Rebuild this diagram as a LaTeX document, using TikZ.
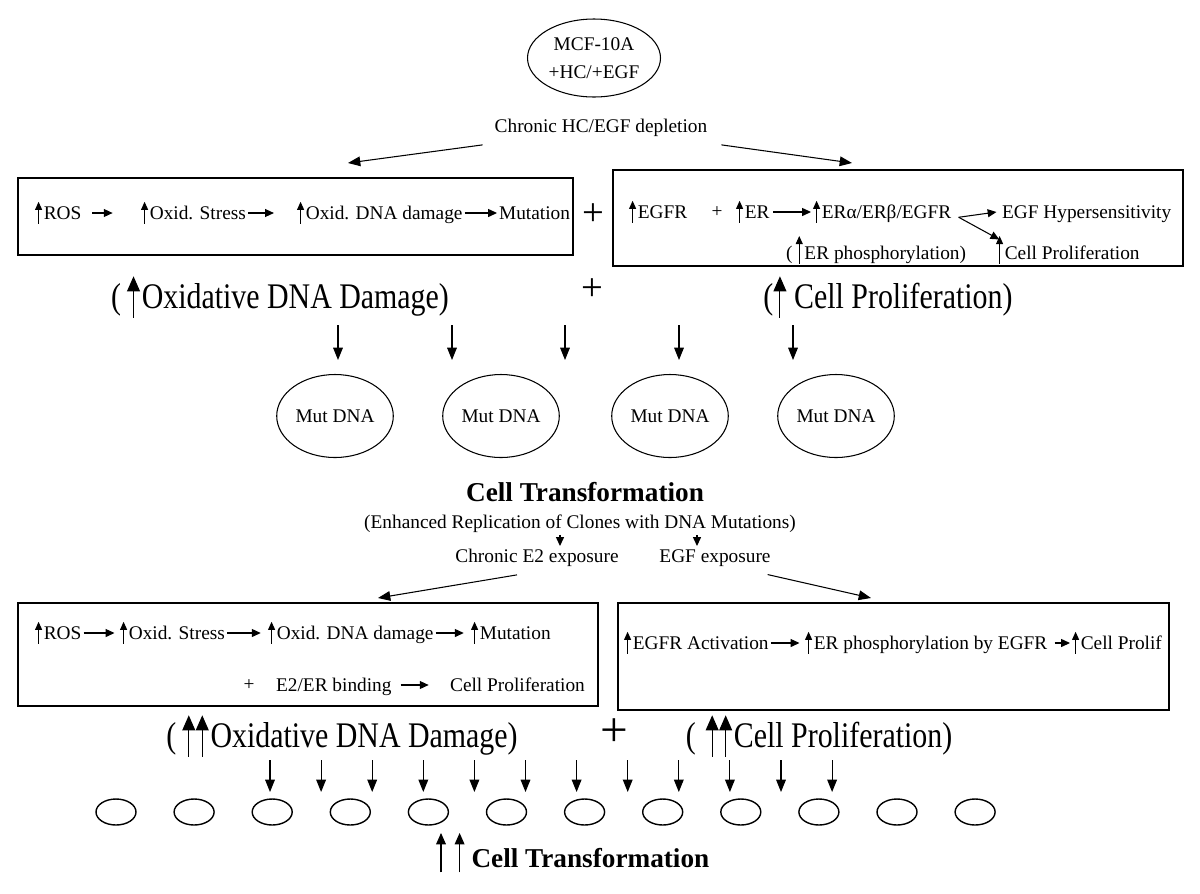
\documentclass[tikz,border=0pt]{standalone}
\usepackage{fontspec}
\setmainfont{Liberation Serif}
\newfontfamily\bigserif[FakeStretch=0.83]{Liberation Serif}
\usetikzlibrary{shapes.geometric,arrows.meta}

% small up arrow set inside text
\newcommand\upx[2]{\tikz[baseline=0pt]\draw[line width=0.6pt,-{Triangle[length=0.42em,width=0.36em]}] (0pt,#1)--(0pt,#2);}
\newcommand\uparr{\upx{-0.25em}{0.9em}\kern1pt}
\newcommand\upuparr{\upx{-0.25em}{0.9em}\kern0.3pt\upx{-0.25em}{0.9em}\kern1pt}

\begin{document}
\begin{tikzpicture}[x=0.02cm,y=-0.02cm,
  every node/.style={font=\fontsize{11}{13}\selectfont,inner sep=1pt},
  arr/.style={line width=0.6pt,-{Triangle[length=5pt,width=4.5pt]}},
  darr/.style={line width=0.6pt,-{Triangle[length=7pt,width=5.5pt]}},
  panel/.style={draw,line width=0.7pt},
  entry/.style={anchor=west,text height=1em,text depth=0.3em},
  big/.style={font=\bigserif\fontsize{20.5}{24}\selectfont},
  headline/.style={font=\bfseries\fontsize{15.5}{18}\selectfont},
  plus/.style={font=\fontsize{22}{22}\selectfont},
  mdna/.style={draw,ellipse,line width=0.6pt,minimum width=2.24cm,minimum height=1.66cm},
  cell/.style={draw,ellipse,line width=0.8pt,minimum width=0.8cm,minimum height=0.52cm}]
\useasboundingbox (0,0) rectangle (1200,893);

% start
\node[draw,ellipse,line width=0.6pt,minimum width=2.56cm,minimum height=1.56cm,align=center,
  font=\fontsize{11}{16}\selectfont] (mcf) at (594,58) {MCF-10A\\+HC/+EGF};
\node (dep) at (601,128) {Chronic HC/EGF depletion};
\coordinate (dl) at (348,163);
\coordinate (dr) at (852,163);
\draw[darr] ([shift={(-10,6)}]dep.south west) -- (dl);
\draw[darr] ([shift={(12,6)}]dep.south east) -- (dr);

% first panels
\draw[panel] (18,178) rectangle (573,255);
\draw[panel] (613,170) rectangle (1183,266);
\node[plus] (p1) at (593,215) {+};

\node[entry] (ros1) at (33,213) {\uparr ROS};
\node[entry] (str1) at (139,213) {\uparr Oxid. Stress};
\node[entry] (dam1) at (295,213) {\uparr Oxid. DNA damage};
\node[entry] (mtn1) at (497,213) {Mutation};
\draw[arr,shorten <=5pt,shorten >=15pt] (ros1) -- (str1);
\draw[arr,shorten >=12pt] (str1) -- (dam1);
\draw[arr] (dam1) -- (mtn1);

\node[entry] (egfr) at (627,212) {\uparr EGFR};
\node (pl) at (717,212) {+};
\node[entry] (er) at (734,212) {\uparr ER};
\node[entry] (erab) at (811,212) {\uparr ERα/ERβ/EGFR};
\node[entry] (hyp) at (1000,212) {EGF Hypersensitivity};
\node[entry] (erp) at (784,253) {(\,\upx{-0.25em}{1.2em}\kern1pt ER phosphorylation)};
\node[entry] (cpro) at (994,253) {\upx{-0.25em}{1.2em}\kern1pt Cell Proliferation};
\draw[arr,shorten <=1pt] (er) -- (erab);
\draw[arr] ([shift={(3pt,-3pt)}]erab.east) -- ([xshift=-2pt]hyp.west);
\draw[arr] ([shift={(3pt,-3pt)}]erab.east) -- ([shift={(3pt,0pt)}]cpro.north west);

\node[big] (oxd1) at (280,297) {(\,\uparr Oxidative DNA Damage)};
\node[plus] (p2) at (592,290) {+};
\node[big] (pro1) at (888,297) {(\uparr\,Cell Proliferation)};

\foreach \x [count=\i] in {338,452,565,679,793} {
  \coordinate (s\i) at (\x,325);
  \coordinate (e\i) at (\x,360);
  \draw[darr] (s\i) -- (e\i);
}
\foreach \x [count=\i] in {335,501,670,836}
  \node[mdna] (dna\i) at (\x,416) {Mut DNA};

% transformation
\node[headline] (ct1) at (585,492) {Cell Transformation};
\node (enh) at (580,524) {(Enhanced Replication of Clones with DNA Mutations)};
\node (e2) at (537,558) {Chronic E2 exposure};
\node (egf) at (715,558) {EGF exposure};
\coordinate (t1) at (560,546);
\coordinate (t2) at (697,546);
\draw[arr] (enh.south -| t1) -- (t1);
\draw[arr] (enh.south -| t2) -- (t2);
\coordinate (l2) at (378,598);
\coordinate (r2) at (871,598);
\draw[darr] ([shift={(-20,6)}]e2.south) -- (l2);
\draw[darr] ([shift={(-5,6)}]egf.south east) -- (r2);

% second panels
\draw[panel] (18,603) rectangle (598,706);
\draw[panel] (618,603) rectangle (1169,710);

\node[entry] (ros3) at (33,633) {\uparr ROS};
\node[entry] (str3) at (118,633) {\uparr Oxid. Stress};
\node[entry] (dam3) at (266,633) {\uparr Oxid. DNA damage};
\node[entry] (mtn3) at (469,633) {\uparr Mutation};
\draw[arr,shorten >=2pt] (ros3) -- (str3);
\draw[arr,shorten >=3pt] (str3) -- (dam3);
\draw[arr,shorten >=3pt] (dam3) -- (mtn3);
\node (pl3) at (249,685) {+};
\node[entry] (bind) at (274,685) {E2/ER binding};
\node[entry] (cpro3) at (448,685) {Cell Proliferation};
\draw[arr,shorten <=4pt,shorten >=11pt] (bind) -- (cpro3);

\node[entry] (act) at (622,643) {\uparr EGFR Activation};
\node[entry] (erp4) at (803,643) {\uparr ER phosphorylation by EGFR};
\node[entry] (cpro4) at (1070,643) {\uparr Cell Prolif};
\draw[arr,shorten >=2pt] (act) -- (erp4);
\draw[arr,shorten <=3pt] (erp4) -- (cpro4);

\node[big] (oxd2) at (342,736) {(\,\upuparr Oxidative DNA Damage)};
\node[plus,font=\fontsize{28}{28}\selectfont] (p3) at (614,733) {+};
\node[big] (pro2) at (819,736) {(\;\upuparr Cell Proliferation)};

\foreach \i in {0,...,11} {
  \coordinate (u\i) at (270+51.1*\i,760);
  \coordinate (v\i) at (270+51.1*\i,792);
  \draw[darr] (u\i) -- (v\i);
  \node[cell] (c\i) at (116+78.1*\i,812) {};
}
\node[headline,anchor=base west] (ct2) at (434,867)
  {\upx{-0.2em}{1.25em}\kern5pt\upx{-0.2em}{1.25em}\kern4pt Cell Transformation};
\end{tikzpicture}
\end{document}
